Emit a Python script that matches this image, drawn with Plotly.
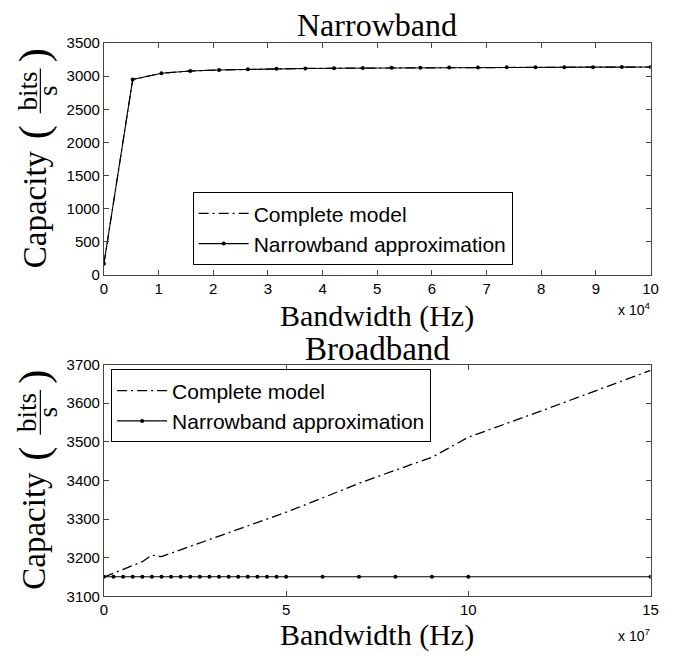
import plotly.graph_objects as go

# ---- Narrowband panel data (bandwidth in Hz, capacity in bits/s) ----
nb_bandwidth = [0, 5263, 10526, 15789, 21053, 26316, 31579, 36842, 42105, 47368,
                52632, 57895, 63158, 68421, 73684, 78947, 84211, 89474, 94737, 100000]
nb_complete = [170, 2950, 3045, 3078, 3095, 3105, 3112, 3117, 3121, 3124,
               3127, 3129, 3131, 3132, 3134, 3135, 3136, 3137, 3138, 3139]
nb_approx = [170, 2950, 3045, 3078, 3095, 3105, 3112, 3117, 3121, 3124,
             3127, 3129, 3131, 3132, 3134, 3135, 3136, 3137, 3138, 3139]

# ---- Broadband panel data ----
bb_bandwidth = [0, 2.632e6, 5.263e6, 7.895e6, 1.0526e7, 1.3158e7, 1.5789e7, 1.8421e7,
                2.1053e7, 2.3684e7, 2.6316e7, 2.8947e7, 3.1579e7, 3.4211e7, 3.6842e7,
                3.9474e7, 4.2105e7, 4.4737e7, 4.7368e7, 5.0e7,
                6.0e7, 7.0e7, 8.0e7, 9.0e7, 1.0e8, 1.1e8, 1.2e8, 1.3e8, 1.4e8, 1.5e8]
bb_complete = [3150, 3160, 3172, 3181, 3190, 3207, 3203, 3212,
               3221, 3230, 3239, 3248, 3257, 3266, 3275,
               3284, 3292, 3301, 3310, 3318,
               3355, 3393, 3427, 3460, 3512, 3545, 3580, 3615, 3650, 3685]
bb_approx_bandwidth = [0, 2.632e6, 5.263e6, 7.895e6, 1.0526e7, 1.3158e7, 1.5789e7, 1.8421e7,
                       2.1053e7, 2.3684e7, 2.6316e7, 2.8947e7, 3.1579e7, 3.4211e7, 3.6842e7,
                       3.9474e7, 4.2105e7, 4.4737e7, 4.7368e7, 5.0e7,
                       6.0e7, 7.0e7, 8.0e7, 9.0e7, 1.0e8, 1.5e8]
bb_approx = [3151] * 26

# ---- Axis ticks ----
nb_xticks = [0, 1e4, 2e4, 3e4, 4e4, 5e4, 6e4, 7e4, 8e4, 9e4, 1e5]
nb_xticktext = ["0", "1", "2", "3", "4", "5", "6", "7", "8", "9", "10"]
nb_yticks = [0, 500, 1000, 1500, 2000, 2500, 3000, 3500]
bb_xticks = [0, 5e7, 1e8, 1.5e8]
bb_xticktext = ["0", "5", "10", "15"]
bb_yticks = [3100, 3200, 3300, 3400, 3500, 3600, 3700]

W, H = 690, 660
SERIF = "Liberation Serif"
SANS = "Liberation Sans, Arial"
AXCOL = "#444444"
DASHDOT = "10px,4px,2px,4px"


def px(x):
    return x / W


def py(y):
    return 1 - y / H


fig = go.Figure()

fig.add_trace(go.Scatter(x=nb_bandwidth, y=nb_complete, mode="lines", name="Complete model",
                         line=dict(color="black", width=1.2, dash=DASHDOT),
                         xaxis="x", yaxis="y", legend="legend"))
fig.add_trace(go.Scatter(x=nb_bandwidth, y=nb_approx, mode="lines+markers",
                         name="Narrowband approximation",
                         line=dict(color="black", width=1.1),
                         marker=dict(color="black", size=4),
                         xaxis="x", yaxis="y", legend="legend"))
fig.add_trace(go.Scatter(x=bb_bandwidth, y=bb_complete, mode="lines", name="Complete model",
                         line=dict(color="black", width=1.3, dash=DASHDOT),
                         xaxis="x2", yaxis="y2", legend="legend2"))
fig.add_trace(go.Scatter(x=bb_approx_bandwidth, y=bb_approx, mode="lines+markers",
                         name="Narrowband approximation",
                         line=dict(color="black", width=1.1),
                         marker=dict(color="black", size=4),
                         xaxis="x2", yaxis="y2", legend="legend2"))

axis_common = dict(showline=True, linecolor=AXCOL, linewidth=1, mirror="ticks",
                   ticks="inside", ticklen=5, tickcolor=AXCOL, showgrid=False,
                   zeroline=False, tickfont=dict(family=SANS, size=15, color="black"))

legend_common = dict(xanchor="left", yanchor="top", bgcolor="white", bordercolor="black",
                     borderwidth=1, itemwidth=50, tracegroupgap=0,
                     font=dict(family=SANS, size=21, color="black"))

xdom = [px(101.7), px(658)]
fig.update_layout(
    width=W, height=H, margin=dict(l=0, r=0, t=0, b=0),
    paper_bgcolor="white", plot_bgcolor="white", showlegend=True,
    xaxis=dict(domain=xdom, range=[0, 1e5], tickvals=nb_xticks, ticktext=nb_xticktext,
               anchor="y", **axis_common),
    yaxis=dict(domain=[py(273), py(35)], range=[0, 3500], tickvals=nb_yticks,
               anchor="x", **axis_common),
    xaxis2=dict(domain=xdom, range=[0, 1.5e8], tickvals=bb_xticks, ticktext=bb_xticktext,
                anchor="y2", **axis_common),
    yaxis2=dict(domain=[py(603), py(365)], range=[3100, 3700], tickvals=bb_yticks,
                anchor="x2", **axis_common),
    legend=dict(x=px(192), y=py(188), **legend_common),
    legend2=dict(x=px(109), y=py(370), **legend_common),
)

annotations = []
shapes = []


def text(x, y, s, size, family=SERIF, angle=0):
    annotations.append(dict(x=px(x), y=py(y), xref="paper", yref="paper", text=s,
                            showarrow=False, textangle=angle, xanchor="center",
                            yanchor="middle", font=dict(family=family, size=size, color="black")))


# panel titles and x-axis titles
text(380, 16, "Narrowband", 32)
text(380, 349, "Broadband", 33)
text(380, 315, "Bandwidth (Hz)", 30)
text(380, 643, "Bandwidth (Hz)", 30)
text(641, 308, "x 10<sup>4</sup>", 14, SANS)
text(641, 643, "x 10<sup>7</sup>", 14, SANS)

# rotated y-axis titles: Capacity (bits / s)
for off in (0, 330):
    text(31, 205 + off, "Capacity", 33, angle=-90)
    text(31, 126 + off, "(", 42, angle=-90)
    text(24, 84 + off, "bits", 27, angle=-90)
    text(45, 84 + off, "s", 27, angle=-90)
    text(31, 47 + off, ")", 42, angle=-90)
    shapes.append(dict(type="line", xref="paper", yref="paper",
                       x0=px(37), x1=px(37), y0=py(61 + off), y1=py(107 + off),
                       line=dict(color="black", width=1.2)))

fig.update_layout(annotations=annotations, shapes=shapes)
fig.write_html("out.html")
